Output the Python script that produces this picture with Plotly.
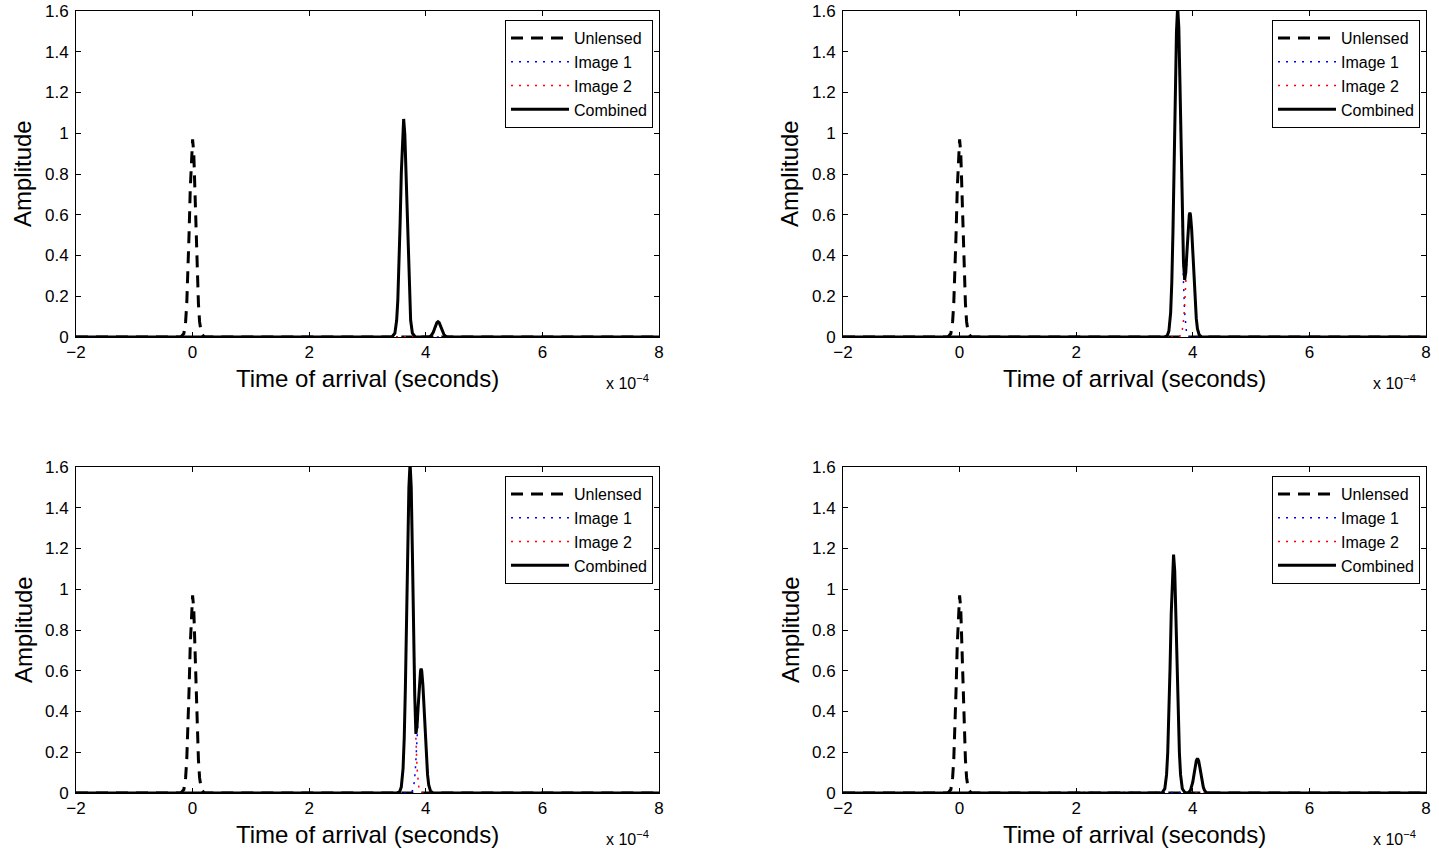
import plotly.graph_objects as go

# Time axis in units of 1e-4 seconds (axis shows "x 10^-4")
# ---- Unlensed pulse (same in all four panels) ----
unlensed_t = [-2, -0.20, -0.15, -0.12, -0.10, -0.08, -0.06, -0.04, -0.02, 0, 0.02, 0.04, 0.06, 0.08, 0.10, 0.12, 0.15, 0.20, 8]
unlensed_a = [0, 0, 0.017, 0.075, 0.164, 0.310, 0.511, 0.729, 0.903, 0.97, 0.903, 0.729, 0.511, 0.310, 0.164, 0.075, 0.017, 0, 0]

# ---- Panel A (top-left) ----
a_img1_t = [-2, 3.42, 3.47, 3.50, 3.52, 3.54, 3.56, 3.58, 3.60, 3.62, 3.64, 3.66, 3.68, 3.70, 3.72, 3.74, 3.77, 3.82, 8]
a_img1_a = [0, 0, 0.019, 0.082, 0.181, 0.342, 0.564, 0.805, 0.996, 1.07, 0.996, 0.805, 0.564, 0.342, 0.181, 0.082, 0.019, 0, 0]
a_img2_t = [-2, 4.01, 4.06, 4.09, 4.11, 4.13, 4.15, 4.17, 4.19, 4.21, 4.23, 4.25, 4.27, 4.29, 4.31, 4.33, 4.36, 4.41, 8]
a_img2_a = [0, 0, 0.001, 0.006, 0.013, 0.024, 0.040, 0.056, 0.070, 0.075, 0.070, 0.056, 0.040, 0.024, 0.013, 0.006, 0.001, 0, 0]
a_comb_t = [-2, 3.42, 3.47, 3.50, 3.52, 3.54, 3.56, 3.58, 3.60, 3.62, 3.64, 3.66, 3.68, 3.70, 3.72, 3.74, 3.77, 3.82,
            4.01, 4.06, 4.09, 4.11, 4.13, 4.15, 4.17, 4.19, 4.21, 4.23, 4.25, 4.27, 4.29, 4.31, 4.33, 4.36, 4.41, 8]
a_comb_a = [0, 0, 0.019, 0.082, 0.181, 0.342, 0.564, 0.805, 0.996, 1.07, 0.996, 0.805, 0.564, 0.342, 0.181, 0.082, 0.019, 0,
            0, 0.001, 0.006, 0.013, 0.024, 0.040, 0.056, 0.070, 0.075, 0.070, 0.056, 0.040, 0.024, 0.013, 0.006, 0.001, 0, 0]

# ---- Panel B (top-right) ----
b_img1_t = [-2, 3.54, 3.59, 3.62, 3.64, 3.66, 3.68, 3.70, 3.72, 3.74, 3.76, 3.78, 3.80, 3.82, 3.84, 3.86, 3.89, 3.94, 8]
b_img1_a = [0, 0, 0.03, 0.12, 0.27, 0.51, 0.84, 1.20, 1.49, 1.60, 1.49, 1.20, 0.84, 0.51, 0.27, 0.12, 0.03, 0, 0]
b_img2_t = [-2, 3.75, 3.80, 3.83, 3.85, 3.87, 3.89, 3.91, 3.93, 3.95, 3.97, 3.99, 4.01, 4.03, 4.05, 4.07, 4.10, 4.15, 8]
b_img2_a = [0, 0, 0.01, 0.05, 0.11, 0.20, 0.32, 0.46, 0.57, 0.61, 0.57, 0.46, 0.32, 0.20, 0.11, 0.05, 0.01, 0, 0]
b_comb_t = [-2, 3.51, 3.56, 3.59, 3.62, 3.64, 3.66, 3.68, 3.70, 3.72, 3.74, 3.76, 3.78, 3.80, 3.82, 3.84, 3.86, 3.88,
            3.90, 3.92, 3.94, 3.95, 3.96, 3.98, 4.00, 4.02, 4.04, 4.06, 4.08, 4.11, 4.15, 8]
b_comb_a = [0, 0, 0.005, 0.03, 0.12, 0.27, 0.52, 0.85, 1.21, 1.50, 1.62, 1.52, 1.24, 0.88, 0.57, 0.37, 0.28, 0.32,
            0.42, 0.53, 0.60, 0.61, 0.60, 0.53, 0.41, 0.28, 0.17, 0.09, 0.04, 0.01, 0, 0]

# ---- Panel C (bottom-left) ----
c_img1_t = [-2, 3.72, 3.77, 3.80, 3.82, 3.84, 3.86, 3.88, 3.90, 3.92, 3.94, 3.96, 3.98, 4.00, 4.02, 4.04, 4.07, 4.12, 8]
c_img1_a = [0, 0, 0.01, 0.05, 0.11, 0.20, 0.32, 0.46, 0.57, 0.61, 0.57, 0.46, 0.32, 0.20, 0.11, 0.05, 0.01, 0, 0]
c_img2_t = [-2, 3.53, 3.58, 3.61, 3.63, 3.65, 3.67, 3.69, 3.71, 3.73, 3.75, 3.77, 3.79, 3.81, 3.83, 3.85, 3.88, 3.93, 8]
c_img2_a = [0, 0, 0.03, 0.12, 0.27, 0.51, 0.84, 1.20, 1.49, 1.60, 1.49, 1.20, 0.84, 0.51, 0.27, 0.12, 0.03, 0, 0]
c_comb_t = [-2, 3.50, 3.55, 3.58, 3.61, 3.63, 3.65, 3.67, 3.69, 3.71, 3.73, 3.75, 3.77, 3.79, 3.81, 3.83, 3.85, 3.87,
            3.89, 3.91, 3.92, 3.93, 3.95, 3.97, 3.99, 4.01, 4.03, 4.05, 4.08, 4.12, 8]
c_comb_a = [0, 0, 0.005, 0.03, 0.12, 0.27, 0.52, 0.85, 1.21, 1.50, 1.62, 1.50, 1.18, 0.80, 0.48, 0.29, 0.33, 0.43,
            0.54, 0.60, 0.61, 0.60, 0.53, 0.41, 0.28, 0.17, 0.09, 0.04, 0.01, 0, 0]

# ---- Panel D (bottom-right) ----
d_img1_t = [-2, 3.88, 3.93, 3.96, 3.98, 4.00, 4.02, 4.04, 4.06, 4.08, 4.10, 4.12, 4.14, 4.16, 4.18, 4.20, 4.23, 4.28, 8]
d_img1_a = [0, 0, 0.003, 0.013, 0.029, 0.054, 0.090, 0.128, 0.158, 0.17, 0.158, 0.128, 0.090, 0.054, 0.029, 0.013, 0.003, 0, 0]
d_img2_t = [-2, 3.47, 3.52, 3.55, 3.57, 3.59, 3.61, 3.63, 3.65, 3.67, 3.69, 3.71, 3.73, 3.75, 3.77, 3.79, 3.82, 3.87, 8]
d_img2_a = [0, 0, 0.021, 0.090, 0.198, 0.374, 0.617, 0.880, 1.089, 1.17, 1.089, 0.880, 0.617, 0.374, 0.198, 0.090, 0.021, 0, 0]
d_comb_t = [-2, 3.47, 3.52, 3.55, 3.57, 3.59, 3.61, 3.63, 3.65, 3.67, 3.69, 3.71, 3.73, 3.75, 3.77, 3.79, 3.82, 3.87,
            3.88, 3.93, 3.96, 3.98, 4.00, 4.02, 4.04, 4.06, 4.08, 4.10, 4.12, 4.14, 4.16, 4.18, 4.20, 4.23, 4.28, 8]
d_comb_a = [0, 0, 0.021, 0.090, 0.198, 0.374, 0.617, 0.880, 1.089, 1.17, 1.089, 0.880, 0.617, 0.374, 0.198, 0.090, 0.021, 0,
            0, 0.003, 0.013, 0.029, 0.054, 0.090, 0.128, 0.158, 0.17, 0.158, 0.128, 0.090, 0.054, 0.029, 0.013, 0.003, 0, 0]

x_ticks = [-2, 0, 2, 4, 6, 8]
y_ticks = [0, 0.2, 0.4, 0.6, 0.8, 1, 1.2, 1.4, 1.6]
legend_names = ["Unlensed", "Image 1", "Image 2", "Combined"]
x_title = "Time of arrival (seconds)"
y_title = "Amplitude"
exp_label = "x 10<sup>\u22124</sup>"

panels = [
    (a_img1_t, a_img1_a, a_img2_t, a_img2_a, a_comb_t, a_comb_a),
    (b_img1_t, b_img1_a, b_img2_t, b_img2_a, b_comb_t, b_comb_a),
    (c_img1_t, c_img1_a, c_img2_t, c_img2_a, c_comb_t, c_comb_a),
    (d_img1_t, d_img1_a, d_img2_t, d_img2_a, d_comb_t, d_comb_a),
]

W, H = 1439, 855
FONT = "Liberation Sans, Arial, Helvetica, sans-serif"
# pixel boxes of the four axes: (left, right, top, bottom)
boxes = [(76, 659, 11, 337), (843, 1426, 11, 337), (76, 659, 467, 793), (843, 1426, 467, 793)]

fig = go.Figure()
layout = dict(width=W, height=H, margin=dict(l=0, r=0, t=0, b=0, autoexpand=False),
              paper_bgcolor="white", plot_bgcolor="white",
              font=dict(family=FONT, size=17, color="black"), annotations=[])

for i, (p, box) in enumerate(zip(panels, boxes)):
    n = "" if i == 0 else str(i + 1)
    xa, ya = "x" + n, "y" + n
    lg = "legend" + n
    i1t, i1a, i2t, i2a, ct, ca = p
    styles = [
        (unlensed_t, unlensed_a, dict(color="black", width=3, dash="12px,8px")),
        (i1t, i1a, dict(color="#0000FF", width=1.5, dash="2px,6px")),
        (i2t, i2a, dict(color="#FF0000", width=1.5, dash="2px,6px")),
        (ct, ca, dict(color="black", width=3)),
    ]
    for name, (tt, aa, ln) in zip(legend_names, styles):
        fig.add_trace(go.Scatter(x=tt, y=aa, mode="lines", name=name, line=ln,
                                 xaxis=xa, yaxis=ya, legend=lg, showlegend=True))
    L, R, T, B = box
    axcommon = dict(showline=True, linecolor="black", linewidth=1, mirror="ticks",
                    ticks="inside", ticklen=5, tickcolor="black", tickwidth=1,
                    showgrid=False, zeroline=False, automargin=False,
                    tickfont=dict(size=17, family=FONT))
    layout["xaxis" + n] = dict(axcommon, domain=[L / W, R / W], range=[-2, 8],
                               tickvals=x_ticks, anchor=ya)
    layout["yaxis" + n] = dict(axcommon, domain=[(H - B) / H, (H - T) / H], range=[0, 1.6],
                               tickvals=y_ticks, anchor=xa, ticklabelstandoff=3)
    layout[lg] = dict(x=(R - 6) / W, y=(H - T - 9) / H, xanchor="right", yanchor="top",
                      bgcolor="white", bordercolor="black", borderwidth=1,
                      itemwidth=58, font=dict(size=16, family=FONT), tracegroupgap=0)
    layout["annotations"] += [
        dict(text=x_title, x=(L + R) / 2 / W, y=(H - B - 41) / H, xref="paper", yref="paper",
             xanchor="center", yanchor="middle", showarrow=False, font=dict(size=24, family=FONT)),
        dict(text=y_title, x=(L - 53) / W, y=(H - (T + B) / 2) / H, xref="paper", yref="paper",
             xanchor="center", yanchor="middle", textangle=-90, showarrow=False,
             font=dict(size=24, family=FONT)),
        dict(text=exp_label, x=(R - 8) / W, y=(H - B - 45) / H, xref="paper", yref="paper",
             xanchor="right", yanchor="middle", showarrow=False, font=dict(size=16, family=FONT)),
    ]

fig.update_layout(**layout)
fig.write_html("out.html")
